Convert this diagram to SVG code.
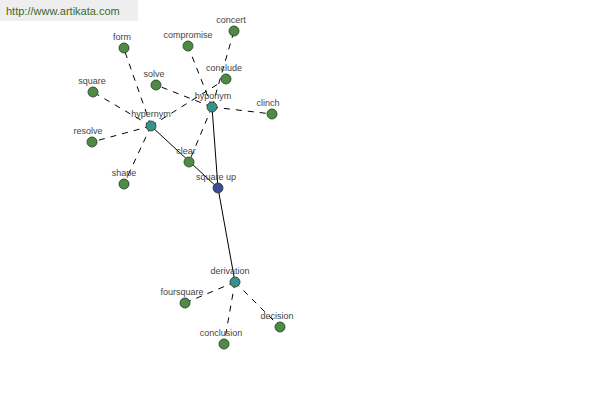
<svg xmlns="http://www.w3.org/2000/svg" width="600" height="400" viewBox="0 0 600 400">
<style>
text{font-family:"Liberation Sans",Arial,sans-serif;font-size:9px;fill:#444;text-anchor:middle}
.n{stroke:#1e3a1e;stroke-width:0.8}
.g{fill:#4e8c45}
.t{fill:#3a9090}
.b{fill:#3b4a9c}
.s{stroke:#000;stroke-width:1;fill:none}
.d{stroke:#000;stroke-width:1;fill:none;stroke-dasharray:6,6}
</style>
<rect width="600" height="400" fill="#fff"/>
<rect x="0" y="0" width="138" height="21" fill="#eeeeee"/>
<text x="6" y="15" style="text-anchor:start;font-size:11px;fill:#3c6a2e">http://www.artikata.com</text>
<g id="connectors">
<line class="s" x1="151" y1="126" x2="218" y2="188"/>
<line class="s" x1="212" y1="107" x2="218" y2="188"/>
<line class="s" x1="218" y1="188" x2="235" y2="282"/>
<line class="d" x1="151" y1="126" x2="124" y2="49"/>
<line class="d" x1="151" y1="126" x2="93" y2="92"/>
<line class="d" x1="151" y1="126" x2="92" y2="142"/>
<line class="d" x1="151" y1="126" x2="124" y2="184"/>
<line class="d" x1="151" y1="126" x2="226" y2="79"/>
<line class="d" x1="212" y1="107" x2="188" y2="46"/>
<line class="d" x1="212" y1="107" x2="234" y2="31"/>
<line class="d" x1="212" y1="107" x2="156" y2="85"/>
<line class="d" x1="212" y1="107" x2="272" y2="114"/>
<line class="d" x1="212" y1="107" x2="189" y2="162"/>
<line class="d" x1="235" y1="282" x2="185" y2="303"/>
<line class="d" x1="235" y1="282" x2="224" y2="344"/>
<line class="d" x1="235" y1="282" x2="280" y2="327"/>
</g>
<g id="form"><circle class="n g" cx="124" cy="48" r="5"/><text x="122" y="40">form</text></g>
<g id="compromise"><circle class="n g" cx="188" cy="46" r="5"/><text x="188" y="38">compromise</text></g>
<g id="concert"><circle class="n g" cx="234" cy="31" r="5"/><text x="231" y="23">concert</text></g>
<g id="conclude"><circle class="n g" cx="226" cy="79" r="5"/><text x="224" y="71">conclude</text></g>
<g id="solve"><circle class="n g" cx="156" cy="85" r="5"/><text x="154" y="77">solve</text></g>
<g id="square"><circle class="n g" cx="93" cy="92" r="5"/><text x="92" y="84">square</text></g>
<g id="resolve"><circle class="n g" cx="92" cy="142" r="5"/><text x="88" y="134">resolve</text></g>
<g id="shape"><circle class="n g" cx="124" cy="184" r="5"/><text x="124" y="176">shape</text></g>
<g id="clinch"><circle class="n g" cx="272" cy="114" r="5"/><text x="268" y="106">clinch</text></g>
<g id="clear"><circle class="n g" cx="189" cy="162" r="5"/><text x="186" y="154">clear</text></g>
<g id="hypernym"><circle class="n t" cx="151" cy="126" r="5"/><text x="151" y="117">hypernym</text></g>
<g id="hyponym"><circle class="n t" cx="212" cy="107" r="5"/><text x="213" y="99">hyponym</text></g>
<g id="square-up"><circle class="n b" cx="218" cy="188" r="5"/><text x="216" y="180">square up</text></g>
<g id="derivation"><circle class="n t" cx="235" cy="282" r="5"/><text x="230" y="274">derivation</text></g>
<g id="foursquare"><circle class="n g" cx="185" cy="303" r="5"/><text x="182" y="295">foursquare</text></g>
<g id="conclusion"><circle class="n g" cx="224" cy="344" r="5"/><text x="221" y="336">conclusion</text></g>
<g id="decision"><circle class="n g" cx="280" cy="327" r="5"/><text x="277" y="319">decision</text></g>
</svg>
